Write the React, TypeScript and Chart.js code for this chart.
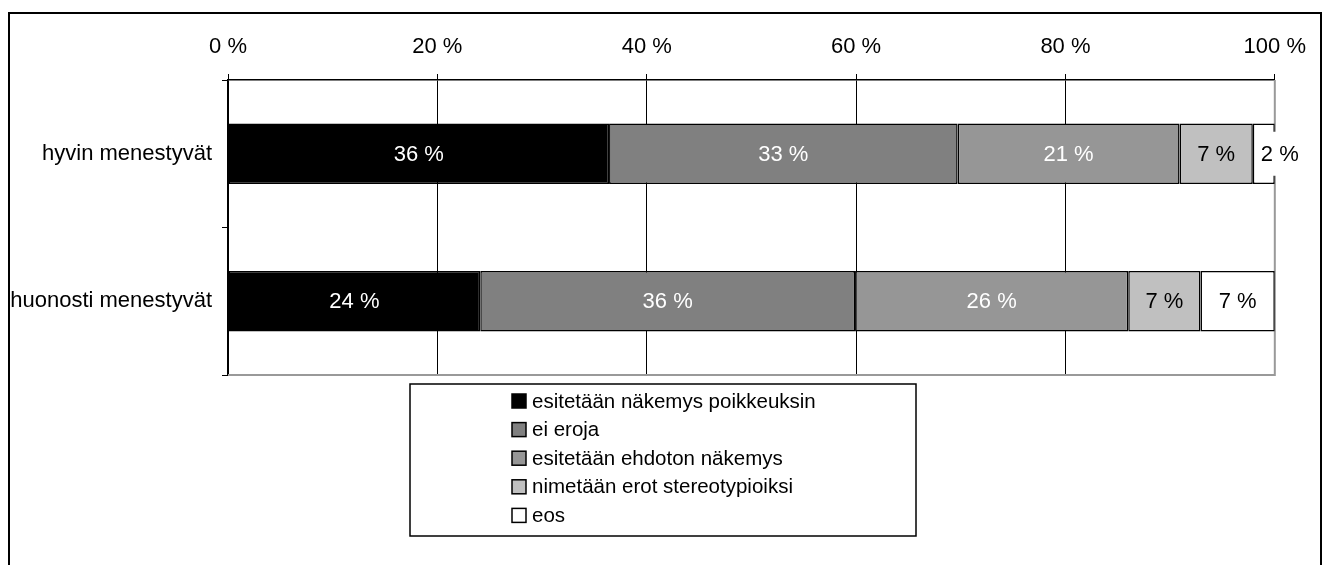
import React, { useEffect, useRef } from "react";
import { Chart, registerables } from "chart.js";

Chart.register(...registerables);

const categories = ["hyvin menestyvät", "huonosti menestyvät"];
const seriesNames = [
  "esitetään näkemys poikkeuksin",
  "ei eroja",
  "esitetään ehdoton näkemys",
  "nimetään erot stereotypioiksi",
  "eos",
];
const poikkeuksin = [36.4, 24.1];
const eiEroja = [33.3, 35.8];
const ehdoton = [21.2, 26.1];
const stereotypioiksi = [7.0, 6.9];
const eos = [2.1, 7.1];
const seriesValues = [poikkeuksin, eiEroja, ehdoton, stereotypioiksi, eos];
const seriesColors = ["#000000", "#808080", "#969696", "#C0C0C0", "#FFFFFF"];
const labelColors = ["#FFFFFF", "#FFFFFF", "#FFFFFF", "#000000", "#000000"];
const xTickValues = [0, 20, 40, 60, 80, 100];

const FONT = "'Liberation Sans', Arial, Helvetica, sans-serif";
const FS = 22;
const LEGEND_FS = 20.5;

const CANVAS_W = 1310;
const CANVAS_H = 566;

const plotBorderPlugin = {
  id: "plotBorder",
  beforeDatasetsDraw(chart: any) {
    const { ctx, chartArea } = chart;
    ctx.save();
    ctx.strokeStyle = "#999999";
    ctx.lineWidth = 2;
    ctx.beginPath();
    ctx.moveTo(chartArea.right, chartArea.top);
    ctx.lineTo(chartArea.right, chartArea.bottom);
    ctx.lineTo(chartArea.left, chartArea.bottom);
    ctx.stroke();
    ctx.restore();
  },
};

const dataLabelPlugin = {
  id: "dataLabels",
  afterDatasetsDraw(chart: any) {
    const { ctx } = chart;
    ctx.save();
    ctx.font = `${FS}px ${FONT}`;
    ctx.textBaseline = "middle";
    chart.data.datasets.forEach((ds: any, di: number) => {
      const meta = chart.getDatasetMeta(di);
      meta.data.forEach((el: any, i: number) => {
        const v = ds.data[i];
        const text = `${Math.round(v)} %`;
        const x0 = Math.min(el.x, el.base);
        const x1 = Math.max(el.x, el.base);
        const w = ctx.measureText(text).width;
        if (w + 6 > x1 - x0) {
          const tx = x0 + 8;
          ctx.fillStyle = "#FFFFFF";
          ctx.fillRect(tx - 3, el.y - 22, w + 6, 44);
          ctx.fillStyle = labelColors[di];
          ctx.textAlign = "left";
          ctx.fillText(text, tx, el.y + 1);
        } else {
          ctx.fillStyle = labelColors[di];
          ctx.textAlign = "center";
          ctx.fillText(text, (x0 + x1) / 2, el.y + 1);
        }
      });
    });
    ctx.restore();
  },
};

const legendPlugin = {
  id: "boxLegend",
  afterDraw(chart: any) {
    const { ctx } = chart;
    const boxL = 400;
    const boxT = 370;
    const boxW = 506;
    const boxH = 152;
    ctx.save();
    ctx.strokeStyle = "#000000";
    ctx.lineWidth = 1.5;
    ctx.strokeRect(boxL, boxT, boxW, boxH);
    ctx.font = `${LEGEND_FS}px ${FONT}`;
    ctx.textBaseline = "middle";
    ctx.textAlign = "left";
    const sq = 14;
    const sqX = 502;
    const firstY = 387;
    const step = 28.6;
    chart.data.datasets.forEach((ds: any, i: number) => {
      const cy = firstY + i * step;
      ctx.fillStyle = ds.backgroundColor;
      ctx.fillRect(sqX, cy - sq / 2, sq, sq);
      ctx.strokeStyle = "#000000";
      ctx.lineWidth = 1.5;
      ctx.strokeRect(sqX, cy - sq / 2, sq, sq);
      ctx.fillStyle = "#000000";
      ctx.fillText(ds.label, sqX + sq + 6, cy + 1);
    });
    ctx.restore();
  },
};

export default function App() {
  const canvasRef = useRef<HTMLCanvasElement | null>(null);

  useEffect(() => {
    document.documentElement.style.overflow = "hidden";
    document.body.style.overflow = "hidden";
    if (!canvasRef.current) return;
    const chart = new Chart(canvasRef.current, {
      type: "bar",
      data: {
        labels: categories,
        datasets: seriesNames.map((name, i) => ({
          label: name,
          data: seriesValues[i],
          backgroundColor: seriesColors[i],
          borderColor: "#000000",
          borderWidth: 1.5,
          borderSkipped: false,
          categoryPercentage: 1,
          barPercentage: 0.41,
        })),
      },
      options: {
        indexAxis: "y",
        animation: false,
        responsive: false,
        maintainAspectRatio: false,
        layout: { padding: { top: 0, left: 0, right: 44, bottom: 205 } },
        plugins: {
          legend: { display: false },
          tooltip: { enabled: false },
          title: { display: false },
        },
        scales: {
          x: {
            type: "linear",
            position: "top",
            stacked: true,
            min: 0,
            max: 100,
            afterBuildTicks: (scale: any) => {
              scale.ticks = xTickValues.map((v) => ({ value: v }));
            },
            afterFit: (scale: any) => {
              scale.height = 66;
            },
            ticks: {
              color: "#000000",
              font: { family: FONT, size: FS },
              padding: 14,
              maxRotation: 0,
              callback: (v: any) => `${v} %`,
            },
            grid: {
              color: (c: any) => (c.tick && c.tick.value === 100 ? "#999999" : "#000000"),
              tickColor: "#000000",
              lineWidth: 1,
              tickLength: 6,
              drawTicks: true,
            },
            border: { color: "#000000", width: 1.5 },
          },
          y: {
            type: "category",
            stacked: true,
            afterFit: (scale: any) => {
              scale.width = 218;
            },
            ticks: {
              color: "#000000",
              font: { family: FONT, size: FS },
              padding: 10,
            },
            grid: {
              offset: true,
              drawOnChartArea: false,
              drawTicks: true,
              tickLength: 6,
              color: "#000000",
              tickColor: "#000000",
            },
            border: { color: "#000000", width: 1.5 },
          },
        },
      },
      plugins: [plotBorderPlugin, dataLabelPlugin, legendPlugin],
    } as any);
    return () => chart.destroy();
  }, []);

  return (
    <div
      style={{
        position: "fixed",
        left: 8,
        top: 12,
        width: 1314,
        height: 570,
        border: "2px solid #000000",
        boxSizing: "border-box",
        background: "#FFFFFF",
      }}
    >
      <canvas
        ref={canvasRef}
        width={CANVAS_W}
        height={CANVAS_H}
        style={{ display: "block", width: CANVAS_W, height: CANVAS_H }}
      />
    </div>
  );
}
